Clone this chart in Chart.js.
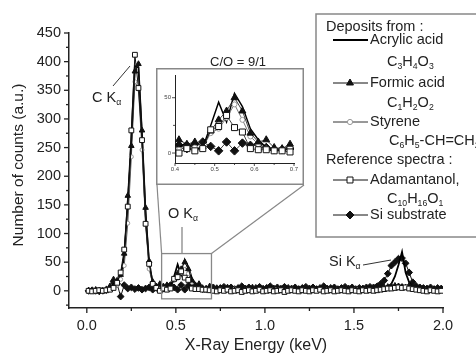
<!DOCTYPE html>
<html>
<head>
<meta charset="utf-8">
<script src="https://cdn.jsdelivr.net/npm/chart.js@4.4.0/dist/chart.umd.min.js"></script>
<style>
body { margin: 0; background: #fff; }
#wrap { position: relative; width: 476px; height: 356px; overflow: hidden; }
#main { position: absolute; left: 0; top: 0; }
#inset { position: absolute; left: 156px; top: 68px; }
</style>
</head>
<body>
<div id="wrap">
  <canvas id="main" width="476" height="356"></canvas>
  <canvas id="inset" width="148" height="117"></canvas>
</div>
<script>
// Energy channels (keV)
const energy = [
  0.01,0.03,0.05,0.07,0.09,0.11,0.13,0.15,0.17,0.19,
  0.21,0.23,0.25,0.27,0.29,0.31,0.33,0.35,0.37,0.39,
  0.41,0.43,0.45,0.47,0.49,0.51,0.53,0.55,0.57,0.59,
  0.61,0.63,0.65,0.67,0.69,0.71,0.73,0.75,0.77,0.79,
  0.81,0.83,0.85,0.87,0.89,0.91,0.93,0.95,0.97,0.99,
  1.01,1.03,1.05,1.07,1.09,1.11,1.13,1.15,1.17,1.19,
  1.21,1.23,1.25,1.27,1.29,1.31,1.33,1.35,1.37,1.39,
  1.41,1.43,1.45,1.47,1.49,1.51,1.53,1.55,1.57,1.59,
  1.61,1.63,1.65,1.67,1.69,1.71,1.73,1.75,1.77,1.79,
  1.81,1.83,1.85,1.87,1.89,1.91,1.93,1.95,1.97,1.99
];

// Counts per series
const acrylic = [
  1,0,1,0,2,1,5,12,14,25,
  60,155,265,392,390,272,135,48,14,6,
  5,10,3,5,25,46,28,54,42,22,
  12,5,3,3,6,4,2,5,3,1,
  4,2,3,5,1,3,2,4,3,2,
  5,3,1,2,4,3,5,2,3,1,
  3,4,2,3,5,1,2,4,3,2,
  4,2,3,5,3,2,1,3,4,2,
  3,4,5,6,8,12,25,45,68,32,
  15,6,3,3,2,4,3,2,1,3
];
const formic = [
  1,0,2,1,0,3,8,20,18,28,
  65,166,253,383,396,280,145,52,16,8,
  12,8,10,6,20,30,38,50,38,18,
  10,12,5,4,8,3,5,2,4,6,
  3,1,4,5,2,3,6,2,1,4,
  5,2,3,1,4,6,3,2,5,3,
  1,4,2,5,3,2,4,1,3,5,
  2,4,3,1,5,2,3,4,2,3,
  3,4,5,6,7,8,9,8,7,6,
  9,7,5,4,3,2,4,3,2,3
];
const styrene = [
  0,1,0,2,1,0,2,6,10,20,
  44,118,234,365,352,246,116,38,12,5,
  3,6,5,5,18,22,32,44,30,15,
  8,4,3,4,5,2,1,3,0,2,
  1,3,2,0,2,1,3,2,1,0,
  2,1,3,2,0,1,2,3,1,2,
  0,2,1,3,2,1,0,2,1,3,
  2,1,2,0,1,3,2,1,2,1,
  2,3,3,4,5,6,8,9,8,6,
  4,3,3,2,1,2,1,2,0,1
];
const adamantanol = [
  0,-1,0,1,0,1,2,5,14,32,
  72,147,280,412,354,263,117,47,12,5,
  0,4,2,4,21,24,34,23,19,4,
  3,3,2,2,1,0,-1,1,0,2,
  -1,0,1,-2,0,1,-1,0,2,-1,
  0,1,-1,0,1,-2,0,1,0,-1,
  1,0,-1,1,0,2,-1,0,1,-1,
  0,1,0,-1,1,0,-1,1,0,1,
  0,1,2,3,4,4,5,6,5,6,
  4,3,2,1,0,-1,1,0,-1,0
];
const siSubstrate = [
  0,1,0,-1,0,1,4,16,12,-10,
  10,4,6,3,5,2,4,6,2,5,
  7,4,8,10,6,2,10,2,9,7,
  8,5,3,3,4,6,3,5,7,4,
  6,3,5,8,4,6,2,5,7,3,
  5,8,4,6,3,7,5,4,6,3,
  5,7,4,6,3,5,8,4,5,6,
  3,5,7,4,6,3,5,4,6,7,
  6,8,12,18,30,44,50,56,57,48,
  32,15,8,6,5,4,6,3,5,4
];

// Tick labels
const xTicks = [0.0, 0.5, 1.0, 1.5, 2.0];
const yTicks = [0, 50, 100, 150, 200, 250, 300, 350, 400, 450];
const insetXTicks = [0.4, 0.5, 0.6, 0.7];
const insetYTicks = [0, 50];

const FONT = "'Liberation Sans', Arial, sans-serif";
const INK = '#222';
Chart.defaults.font.family = FONT;
Chart.defaults.color = INK;

function pts(ys, lo, hi) {
  return energy.map((x, i) => ({ x: x, y: ys[i] })).filter(p => p.x >= lo && p.x <= hi);
}

function makeSets(lo, hi, k, lw) {
  return [
    { data: pts(adamantanol, lo, hi), pointStyle: 'rect', pointRadius: 3.4 * k,
      borderColor: '#111', borderWidth: lw, pointBackgroundColor: '#fff',
      pointBorderColor: '#111', pointBorderWidth: 1 },
    { data: pts(formic, lo, hi), pointStyle: 'triangle', pointRadius: 3.2 * k,
      borderColor: '#111', borderWidth: lw, pointBackgroundColor: '#111',
      pointBorderColor: '#111', pointBorderWidth: 1 },
    { data: pts(styrene, lo, hi), pointStyle: 'circle', pointRadius: 2 * k,
      borderColor: '#555', borderWidth: lw, pointBackgroundColor: '#fff',
      pointBorderColor: '#999', pointBorderWidth: 1 },
    { data: pts(acrylic, lo, hi), pointRadius: 0,
      borderColor: '#000', borderWidth: lw * 1.8 },
    { data: pts(siSubstrate, lo, hi), pointStyle: 'rectRot', pointRadius: 3.4 * k,
      borderColor: '#111', borderWidth: lw, pointBackgroundColor: '#111',
      pointBorderColor: '#111', pointBorderWidth: 1 }
  ].map(d => Object.assign({ showLine: true, tension: 0 }, d));
}

// small drawing helpers
function line(ctx, x1, y1, x2, y2, color, w) {
  ctx.strokeStyle = color; ctx.lineWidth = w;
  ctx.beginPath(); ctx.moveTo(x1, y1); ctx.lineTo(x2, y2); ctx.stroke();
}

// text with subscripts: parts = [[text, isSub], ...]
function rich(ctx, x, y, parts, size) {
  ctx.textAlign = 'left'; ctx.textBaseline = 'middle'; ctx.fillStyle = INK;
  for (let [t, sub] of parts) {
    ctx.font = (sub ? size * 0.6 : size) + 'px ' + FONT;
    ctx.fillText(t, x, sub ? y + size * 0.32 : y);
    x += ctx.measureText(t).width;
  }
  return x;
}

function marker(ctx, style, x, y, r) {
  ctx.lineWidth = 1;
  ctx.beginPath();
  if (style === 'triangle') {
    ctx.moveTo(x, y - r); ctx.lineTo(x + r * 0.87, y + r * 0.5); ctx.lineTo(x - r * 0.87, y + r * 0.5); ctx.closePath();
    ctx.fillStyle = '#111'; ctx.fill(); ctx.strokeStyle = '#111'; ctx.stroke();
  } else if (style === 'circle') {
    ctx.arc(x, y, r, 0, Math.PI * 2);
    ctx.fillStyle = '#fff'; ctx.fill(); ctx.strokeStyle = '#999'; ctx.stroke();
  } else if (style === 'rect') {
    let s = r * 0.707;
    ctx.rect(x - s, y - s, 2 * s, 2 * s);
    ctx.fillStyle = '#fff'; ctx.fill(); ctx.strokeStyle = '#111'; ctx.stroke();
  } else if (style === 'rectRot') {
    ctx.moveTo(x, y - r); ctx.lineTo(x + r, y); ctx.lineTo(x, y + r); ctx.lineTo(x - r, y); ctx.closePath();
    ctx.fillStyle = '#111'; ctx.fill(); ctx.strokeStyle = '#111'; ctx.stroke();
  }
}

function drawTicks(ctx, chart, xs, ys, xMajor, yMajor, big, small, w) {
  let a = chart.chartArea, sx = chart.scales.x, sy = chart.scales.y;
  for (let v of xs) {
    let p = sx.getPixelForValue(v);
    let len = xMajor.some(m => Math.abs(m - v) < 1e-6) ? big : small;
    line(ctx, p, a.bottom, p, a.bottom + len, INK, w);
  }
  for (let v of ys) {
    let p = sy.getPixelForValue(v);
    let len = yMajor.some(m => Math.abs(m - v) < 1e-6) ? big : small;
    line(ctx, a.left, p, a.left - len, p, INK, w);
  }
}

const mainOverlay = {
  id: 'mainOverlay',
  afterDraw(chart) {
    const ctx = chart.ctx;
    const sx = chart.scales.x, sy = chart.scales.y;
    ctx.save();

    drawTicks(ctx, chart,
      [0, 0.25, 0.5, 0.75, 1, 1.25, 1.5, 1.75, 2], [-25, 0, 25, 50, 75, 100, 125, 150, 175, 200, 225, 250, 275, 300, 325, 350, 375, 400, 425, 450],
      xTicks, yTicks, 5, 3, 1.3);

    // axis titles
    ctx.fillStyle = INK;
    ctx.textAlign = 'center'; ctx.textBaseline = 'middle';
    ctx.font = '16px ' + FONT;
    ctx.fillText('X-Ray Energy (keV)', 256, 346);
    ctx.save();
    ctx.translate(19, 165); ctx.rotate(-Math.PI / 2);
    ctx.font = '15.5px ' + FONT;
    ctx.fillText('Number of counts (a.u.)', 0, 0);
    ctx.restore();

    // peak labels
    rich(ctx, 92, 98, [['C K', 0], ['α', 1]], 14.5);
    line(ctx, 113, 86, 130, 66, '#333', 1);
    rich(ctx, 168, 214, [['O K', 0], ['α', 1]], 14.5);
    line(ctx, 182, 227, 182, 254, '#888', 1.3);
    rich(ctx, 329, 262, [['Si K', 0], ['α', 1]], 14.5);
    line(ctx, 363, 265, 391, 260, '#333', 1);

    // zoom box around the O peak and links to the inset
    let bx1 = sx.getPixelForValue(0.42), bx2 = sx.getPixelForValue(0.70);
    let by1 = sy.getPixelForValue(65), by2 = sy.getPixelForValue(-14);
    ctx.strokeStyle = '#888'; ctx.lineWidth = 1.3;
    ctx.strokeRect(bx1, by1, bx2 - bx1, by2 - by1);
    line(ctx, 157, 185, bx1, by1, '#888', 1.2);
    line(ctx, 304, 185, bx2, by1, '#888', 1.2);

    ctx.fillStyle = INK; ctx.textAlign = 'center'; ctx.textBaseline = 'middle';
    ctx.font = '13px ' + FONT;
    ctx.fillText('C/O = 9/1', 238, 62);

    // legend
    ctx.fillStyle = '#fff';
    ctx.fillRect(316, 14, 170, 223);
    ctx.strokeStyle = '#888'; ctx.lineWidth = 1.5;
    ctx.strokeRect(316, 14, 170, 223);
    const fs = 14.5;
    rich(ctx, 326, 27, [['Deposits from :', 0]], fs);
    line(ctx, 333, 40, 368, 40, '#000', 2.2);
    rich(ctx, 370, 40, [['Acrylic acid', 0]], fs);
    rich(ctx, 387, 62, [['C', 0], ['3', 1], ['H', 0], ['4', 1], ['O', 0], ['3', 1]], fs);
    line(ctx, 333, 83, 368, 83, '#111', 1);
    marker(ctx, 'triangle', 350, 83, 4);
    rich(ctx, 370, 83, [['Formic acid', 0]], fs);
    rich(ctx, 387, 103, [['C', 0], ['1', 1], ['H', 0], ['2', 1], ['O', 0], ['2', 1]], fs);
    line(ctx, 333, 122, 368, 122, '#333', 1);
    marker(ctx, 'circle', 350, 122, 2.6);
    rich(ctx, 370, 122, [['Styrene', 0]], fs);
    rich(ctx, 389, 141, [['C', 0], ['6', 1], ['H', 0], ['5', 1], ['-CH=CH', 0], ['2', 1]], fs);
    rich(ctx, 326, 160, [['Reference spectra :', 0]], fs);
    line(ctx, 333, 180, 368, 180, '#111', 1);
    marker(ctx, 'rect', 350, 180, 4.2);
    rich(ctx, 370, 180, [['Adamantanol,', 0]], fs);
    rich(ctx, 387, 199, [['C', 0], ['10', 1], ['H', 0], ['16', 1], ['O', 0], ['1', 1]], fs);
    line(ctx, 333, 215, 368, 215, '#111', 1);
    marker(ctx, 'rectRot', 350, 215, 4);
    rich(ctx, 370, 215, [['Si substrate', 0]], fs);

    ctx.restore();
  }
};

new Chart(document.getElementById('main'), {
  type: 'scatter',
  data: { datasets: makeSets(0, 2, 1, 1) },
  options: {
    responsive: false, animation: false, events: [],
    layout: { padding: { top: 33, right: 33, left: 0, bottom: 0 } },
    plugins: { legend: { display: false }, tooltip: { enabled: false } },
    scales: {
      x: {
        type: 'linear', min: -0.1, max: 2.0,
        afterFit: s => { s.height = 48; },
        afterBuildTicks: s => { s.ticks = xTicks.map(v => ({ value: v })); },
        ticks: { callback: v => v.toFixed(1), font: { size: 14.5 }, padding: 9, maxRotation: 0, autoSkip: false },
        grid: { display: false, drawTicks: false, tickLength: 0 },
        border: { display: true, color: INK, width: 1.5 }
      },
      y: {
        type: 'linear', min: -30, max: 450,
        afterFit: s => { s.width = 69; },
        afterBuildTicks: s => { s.ticks = yTicks.map(v => ({ value: v })); },
        ticks: { callback: v => String(v), font: { size: 14.5 }, padding: 8, autoSkip: false },
        grid: { display: false, drawTicks: false, tickLength: 0 },
        border: { display: true, color: INK, width: 1.5 }
      }
    }
  },
  plugins: [mainOverlay]
});

// Inset: zoom on the O K-alpha region
const insetOverlay = {
  id: 'insetOverlay',
  beforeDraw(chart) {
    const ctx = chart.ctx;
    ctx.save();
    ctx.fillStyle = '#fff';
    ctx.fillRect(0, 0, chart.width, chart.height);
    ctx.restore();
  },
  afterDraw(chart) {
    const ctx = chart.ctx;
    ctx.save();
    drawTicks(ctx, chart, [0.4, 0.45, 0.5, 0.55, 0.6, 0.65, 0.7], [0, 25, 50], insetXTicks, insetYTicks, 3, 2, 0.8);
    ctx.strokeStyle = '#888'; ctx.lineWidth = 1.5;
    ctx.strokeRect(0.75, 0.75, chart.width - 1.5, chart.height - 1.5);
    ctx.restore();
  }
};

new Chart(document.getElementById('inset'), {
  type: 'scatter',
  data: { datasets: makeSets(0.4, 0.7, 1.25, 0.8) },
  options: {
    responsive: false, animation: false, events: [],
    layout: { padding: { top: 7, right: 10, left: 0, bottom: 0 } },
    plugins: { legend: { display: false }, tooltip: { enabled: false } },
    scales: {
      x: {
        type: 'linear', min: 0.4, max: 0.7,
        afterFit: s => { s.height = 22; },
        afterBuildTicks: s => { s.ticks = insetXTicks.map(v => ({ value: v })); },
        ticks: { callback: v => v.toFixed(1), font: { size: 6 }, color: '#444', padding: 3, maxRotation: 0, autoSkip: false },
        grid: { display: false, drawTicks: false, tickLength: 0 },
        border: { display: true, color: INK, width: 1 }
      },
      y: {
        type: 'linear', min: -9, max: 70,
        afterFit: s => { s.width = 19; },
        afterBuildTicks: s => { s.ticks = insetYTicks.map(v => ({ value: v })); },
        ticks: { callback: v => String(v), font: { size: 6 }, color: '#444', padding: 4, autoSkip: false },
        grid: { display: false, drawTicks: false, tickLength: 0 },
        border: { display: true, color: INK, width: 1 }
      }
    }
  },
  plugins: [insetOverlay]
});
</script>
</body>
</html>
